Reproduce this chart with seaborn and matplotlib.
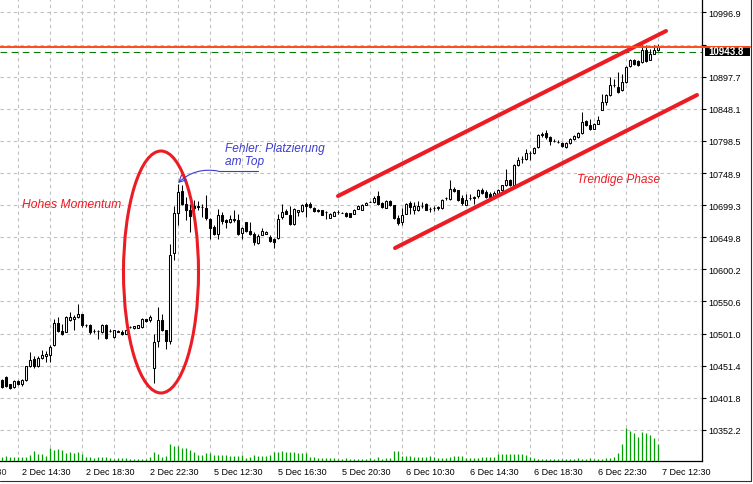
import numpy as np
import pandas as pd
import matplotlib
matplotlib.use("Agg")
import matplotlib.pyplot as plt
import matplotlib.transforms as mtransforms
from matplotlib.patches import Ellipse, Rectangle
from matplotlib.lines import Line2D
import seaborn as sns

# OHLC per bar (bar 0 = left edge of the screenshot)
opens = [10430.0, 10434.1, 10422.8, 10418.6, 10427.9, 10422.8, 10428.9, 10450.6, 10461.4, 10450.6,
         10463.4, 10466.0, 10467.5, 10483.0, 10518.0, 10504.6, 10504.1, 10521.6, 10523.1, 10526.7,
         10530.9, 10514.4, 10514.9, 10505.1, 10505.1, 10503.6, 10514.9, 10505.1, 10495.9, 10505.6,
         10504.1, 10501.0, 10511.0, 10509.2, 10509.7, 10511.3, 10523.1, 10521.6, 10448.5, 10489.7,
         10521.6, 10506.1, 10489.7, 10625.6, 10687.3, 10720.8, 10701.7, 10692.5, 10698.6, 10697.6,
         10696.6, 10695.0, 10678.6, 10665.7, 10655.4, 10683.7, 10676.0, 10673.4, 10678.6, 10676.0,
         10656.4, 10673.4, 10659.0, 10654.4, 10641.0, 10653.9, 10655.4, 10650.3, 10647.7, 10649.2,
         10681.1, 10689.9, 10684.7, 10670.9, 10688.9, 10690.4, 10700.7, 10700.7, 10695.0, 10691.4,
         10691.4, 10688.9, 10680.1, 10683.2, 10689.4, 10687.8, 10687.8, 10687.3, 10686.3, 10694.0,
         10692.5, 10699.7, 10704.3, 10704.3, 10713.1, 10702.8, 10695.6, 10705.8, 10699.2, 10680.1,
         10673.4, 10686.3, 10702.8, 10691.4, 10692.5, 10697.6, 10700.7, 10694.0, 10695.0, 10695.6,
         10695.6, 10710.5, 10709.5, 10724.9, 10722.3, 10711.0, 10700.2, 10711.0, 10711.0, 10713.1,
         10723.4, 10720.3, 10716.2, 10713.6, 10716.2, 10722.3, 10730.0, 10737.7, 10730.0, 10760.9,
         10770.0, 10771.2, 10780.0, 10780.0, 10789.2, 10808.3, 10810.8, 10804.7, 10798.5, 10797.0,
         10795.9, 10789.2, 10795.4, 10801.0, 10804.7, 10810.8, 10829.4, 10822.7, 10817.5, 10825.3,
         10846.9, 10858.7, 10869.0, 10884.5, 10881.9, 10876.7, 10889.6, 10913.8, 10924.1, 10922.0,
         10920.5, 10939.5, 10924.1, 10933.4, 10939.5]
highs = [10430.5, 10435.0, 10423.8, 10428.9, 10430.0, 10431.0, 10451.6, 10472.2, 10466.5, 10466.5,
         10475.3, 10473.7, 10483.0, 10524.2, 10526.7, 10516.4, 10527.8, 10534.5, 10529.3, 10547.3,
         10531.9, 10516.4, 10516.4, 10508.7, 10507.2, 10516.4, 10516.4, 10508.7, 10507.2, 10506.1,
         10506.1, 10507.0, 10513.0, 10513.5, 10514.5, 10525.2, 10524.2, 10529.3, 10501.0, 10542.2,
         10530.9, 10507.2, 10638.9, 10697.6, 10731.6, 10730.0, 10712.0, 10701.7, 10707.9, 10705.8,
         10700.7, 10715.6, 10679.6, 10668.3, 10694.0, 10688.9, 10678.6, 10684.7, 10691.4, 10685.3,
         10665.7, 10673.4, 10673.4, 10657.5, 10655.4, 10664.2, 10659.0, 10652.8, 10648.7, 10686.3,
         10700.7, 10694.0, 10697.6, 10695.0, 10692.5, 10700.7, 10704.3, 10704.3, 10696.6, 10694.0,
         10692.5, 10689.9, 10687.3, 10690.4, 10691.4, 10688.4, 10689.4, 10687.8, 10694.0, 10699.2,
         10701.7, 10703.8, 10705.3, 10713.6, 10721.3, 10704.3, 10706.9, 10706.9, 10700.2, 10683.7,
         10695.0, 10702.8, 10705.8, 10704.3, 10705.8, 10704.3, 10702.8, 10696.6, 10697.6, 10697.6,
         10709.5, 10712.0, 10738.8, 10727.5, 10723.4, 10714.6, 10717.2, 10716.1, 10713.1, 10724.9,
         10726.4, 10722.3, 10720.3, 10721.3, 10724.9, 10731.1, 10755.8, 10740.3, 10763.5, 10773.8,
         10775.0, 10786.7, 10783.1, 10789.2, 10809.8, 10812.4, 10815.0, 10805.7, 10802.1, 10799.5,
         10797.0, 10797.0, 10803.1, 10807.3, 10812.4, 10843.3, 10830.4, 10832.5, 10826.3, 10836.6,
         10871.6, 10871.6, 10897.3, 10894.7, 10905.0, 10902.5, 10913.8, 10925.6, 10925.6, 10923.1,
         10946.2, 10946.2, 10941.1, 10946.2, 10947.7]
lows = [10417.6, 10418.6, 10415.5, 10417.6, 10421.7, 10420.7, 10427.9, 10449.5, 10448.5, 10449.5,
        10462.4, 10457.2, 10457.2, 10481.4, 10503.6, 10499.5, 10503.1, 10520.6, 10506.1, 10525.7,
        10511.3, 10511.3, 10501.0, 10502.0, 10493.3, 10502.5, 10493.3, 10503.1, 10494.8, 10503.1,
        10498.4, 10500.0, 10509.0, 10508.5, 10509.2, 10510.3, 10519.0, 10519.0, 10424.8, 10480.4,
        10505.1, 10477.8, 10485.6, 10615.3, 10668.3, 10699.2, 10676.0, 10657.5, 10673.4, 10691.4,
        10681.2, 10676.0, 10647.7, 10652.8, 10647.7, 10670.9, 10664.7, 10671.9, 10673.4, 10653.9,
        10647.7, 10658.0, 10652.8, 10637.4, 10638.9, 10652.8, 10654.4, 10642.0, 10633.3, 10647.7,
        10678.6, 10685.3, 10669.3, 10668.3, 10682.2, 10688.9, 10681.1, 10695.6, 10688.9, 10688.9,
        10683.7, 10678.6, 10679.6, 10682.2, 10686.3, 10686.8, 10681.1, 10680.6, 10685.3, 10693.5,
        10691.4, 10699.2, 10703.8, 10703.3, 10699.2, 10695.6, 10694.5, 10697.6, 10678.6, 10668.3,
        10668.3, 10685.3, 10685.3, 10686.3, 10690.4, 10695.6, 10691.4, 10688.9, 10690.4, 10691.4,
        10694.0, 10707.9, 10707.9, 10719.7, 10705.3, 10700.2, 10699.2, 10706.9, 10701.7, 10711.0,
        10717.2, 10711.0, 10711.0, 10712.1, 10714.6, 10721.3, 10729.5, 10728.4, 10729.5, 10759.4,
        10764.0, 10769.7, 10768.6, 10778.9, 10788.2, 10804.7, 10802.1, 10791.8, 10796.4, 10795.4,
        10789.2, 10788.2, 10793.3, 10799.5, 10803.6, 10809.8, 10821.1, 10816.0, 10817.0, 10824.2,
        10845.8, 10853.6, 10867.5, 10881.9, 10872.6, 10875.7, 10888.6, 10912.8, 10915.3, 10914.8,
        10918.9, 10920.5, 10923.1, 10932.4, 10937.5]
closes = [10418.6, 10420.7, 10417.6, 10427.9, 10423.8, 10430.0, 10450.6, 10460.9, 10450.6, 10463.9,
          10468.6, 10470.1, 10480.4, 10518.0, 10505.1, 10501.0, 10526.7, 10526.7, 10526.7, 10530.9,
          10514.9, 10513.9, 10503.6, 10504.6, 10504.6, 10514.9, 10494.3, 10504.6, 10506.1, 10504.1,
          10501.0, 10506.1, 10511.6, 10512.8, 10513.9, 10523.1, 10521.1, 10526.7, 10488.6, 10521.6,
          10507.2, 10489.7, 10623.0, 10687.8, 10719.7, 10700.7, 10692.5, 10682.2, 10695.0, 10697.1,
          10696.1, 10679.6, 10664.7, 10655.4, 10684.7, 10675.0, 10672.9, 10677.5, 10676.0, 10655.4,
          10664.7, 10659.5, 10654.4, 10642.5, 10651.3, 10659.0, 10658.0, 10643.6, 10642.5, 10678.6,
          10688.9, 10686.3, 10670.9, 10694.0, 10691.4, 10699.2, 10697.6, 10696.6, 10690.4, 10690.4,
          10684.7, 10688.4, 10686.3, 10688.4, 10689.1, 10687.6, 10682.2, 10681.1, 10692.5, 10698.6,
          10700.2, 10702.8, 10704.8, 10711.0, 10700.7, 10696.6, 10705.8, 10699.2, 10680.1, 10671.9,
          10683.7, 10701.7, 10696.6, 10697.6, 10697.6, 10697.4, 10692.5, 10693.8, 10695.3, 10696.1,
          10707.9, 10710.3, 10724.9, 10721.3, 10706.9, 10702.8, 10707.9, 10710.8, 10711.3, 10723.4,
          10718.2, 10712.1, 10712.1, 10718.7, 10723.4, 10730.0, 10737.7, 10730.0, 10760.9, 10769.7,
          10770.5, 10780.0, 10780.5, 10788.2, 10808.3, 10808.8, 10804.7, 10798.5, 10799.0, 10796.7,
          10790.3, 10795.4, 10801.0, 10805.7, 10810.8, 10827.8, 10822.7, 10817.5, 10825.3, 10830.4,
          10858.7, 10869.0, 10884.5, 10885.0, 10874.2, 10889.6, 10912.8, 10924.1, 10916.9, 10915.3,
          10939.5, 10922.0, 10932.4, 10939.5, 10943.8]
volumes = [43, 50, 40, 40, 40, 40, 40, 63, 103, 70, 67, 53, 130, 113, 120, 113, 83, 90, 77, 93,
           73, 43, 43, 30, 40, 40, 37, 30, 20, 27, 30, 30, 20, 20, 20, 20, 20, 40, 93, 73,
           43, 53, 173, 153, 153, 130, 133, 110, 93, 63, 63, 77, 83, 63, 63, 63, 63, 53, 53, 53,
           57, 33, 40, 60, 53, 53, 47, 63, 93, 93, 103, 87, 93, 87, 80, 83, 77, 40, 43, 33,
           33, 33, 33, 30, 23, 23, 30, 23, 20, 20, 20, 20, 30, 20, 40, 20, 27, 30, 103, 97,
           55, 50, 50, 45, 40, 40, 45, 50, 40, 35, 35, 35, 40, 50, 55, 55,
           30, 35, 35, 35, 40, 40, 40, 40, 70, 75, 70, 70, 70, 70, 70, 65,
           40, 30, 25, 25, 20, 25, 25, 20, 20, 25, 25, 25, 30, 25, 25, 35,
           25, 25, 25, 30, 35, 40,
           80, 170, 330, 300, 280, 240, 290, 280, 260, 230, 170]

time_tick_bars = [4, 20, 36, 52, 68, 84, 100, 116, 132, 148, 164]
time_tick_labels = ["2 Dec 14:30", "2 Dec 18:30", "2 Dec 22:30", "5 Dec 12:30", "5 Dec 16:30",
                    "5 Dec 20:30", "6 Dec 10:30", "6 Dec 14:30", "6 Dec 18:30", "6 Dec 22:30",
                    "7 Dec 12:30"]
price_ticks = [10352.2, 10401.8, 10451.4, 10501.0, 10550.6, 10600.2, 10649.8, 10699.3,
               10748.9, 10798.5, 10848.1, 10897.7, 10947.3, 10996.9]
bid_price = 10943.8
level_price = 10935.3

# drawn objects on the chart
upper_channel_bar = [84, 166]
upper_channel_price = [10713.4, 10968.2]
lower_channel_bar = [98.25, 173.75]
lower_channel_price = [10633.1, 10869.4]

RED = "#ec1c24"
BLUE = "#3c3cd0"

sns.set_style("white")
plt.rcParams["font.family"] = ["Liberation Sans", "DejaVu Sans"]

df = pd.DataFrame({"open": opens, "high": highs, "low": lows, "close": closes, "volume": volumes})
df["bar"] = np.arange(len(df))
df["body_low"] = df[["open", "close"]].min(axis=1)
df["body_h"] = (df["close"] - df["open"]).abs()
up = df["close"] >= df["open"]

fig = plt.figure(figsize=(7.53, 4.85), dpi=100)
ax = fig.add_axes([0, 23 / 485, 702 / 753, 462 / 485])

# volumes sit at the bottom on their own scale
axv = ax.twinx()
axv.vlines(df["bar"], 0, df["volume"], color="#00a000", linewidth=0.9)
axv.set_ylim(0, 4620)
axv.set_axis_off()

# candles
ax.vlines(df["bar"], df["low"], df["high"], color="black", linewidth=0.75, zorder=3)
ax.bar(df["bar"][up], df["body_h"][up], bottom=df["body_low"][up], width=0.55,
       color="white", edgecolor="black", linewidth=0.75, zorder=4)
ax.bar(df["bar"][~up], df["body_h"][~up], bottom=df["body_low"][~up], width=0.55,
       color="black", edgecolor="black", linewidth=0.75, zorder=4)

ax.set_xlim(-0.5, 175)
ax.set_ylim(10304.3, 11017.6)

# bid line and level line
ax.axhline(level_price, color="#0a7a0a", linewidth=0.8, linestyle=(0, (6, 4)), zorder=2)
ax.axhline(bid_price, xmin=0, xmax=750 / 702, color="#ff4a1a", linewidth=1.4, zorder=6, clip_on=False)
blend = mtransforms.blended_transform_factory(ax.transAxes, ax.transData)
ax.add_patch(Rectangle((705 / 702, bid_price - 14.5), 45 / 702, 16.5, transform=blend,
                       facecolor="black", edgecolor="none", clip_on=False, zorder=5))
ax.text(708 / 702, bid_price - 6.2, f"{bid_price:.1f}", transform=blend, color="white",
        fontsize=7.0, fontweight="bold", va="center", ha="left", clip_on=False, zorder=7)

# channel
sns.lineplot(x=upper_channel_bar, y=upper_channel_price, ax=ax, color=RED, linewidth=2.9, zorder=5)
sns.lineplot(x=lower_channel_bar, y=lower_channel_price, ax=ax, color=RED, linewidth=2.9, zorder=5)

# momentum ellipse
ax.add_patch(Ellipse((39.75, 10596.1), 18.75, 373.6, fill=False, edgecolor=RED, linewidth=2.2, zorder=5))

# labels
ax.text(5, 10701.1, "Hohes Momentum", color=RED, fontsize=8.7, style="italic", va="center", ha="left")
ax.text(143.75, 10739.7, "Trendige Phase", color=RED, fontsize=8.6, style="italic", va="center", ha="left")
ax.text(55.75, 10797.5, "Fehler: Platzierung\nam Top", color=BLUE, fontsize=8.6, style="italic",
        va="top", ha="left", linespacing=1.2)
ax.plot([54, 64], [10752.0, 10752.0], color=BLUE, linewidth=0.8, zorder=6)
ax.annotate("", xy=(44, 10733.5), xytext=(54, 10752.0),
            arrowprops=dict(arrowstyle="->,head_length=0.5,head_width=0.25", color=BLUE,
                            linewidth=0.8, connectionstyle="arc3,rad=0.25", shrinkA=0, shrinkB=0),
            zorder=6)

# axes look
ax.yaxis.tick_right()
ax.set_yticks(price_ticks)
ax.set_yticklabels([f"{p:.1f}" if p != 10947.3 else "" for p in price_ticks])
ax.set_xticks(time_tick_bars)
ax.set_xticks([b + 8 for b in time_tick_bars[:-1]], minor=True)
ax.set_xticklabels(time_tick_labels)
ax.tick_params(axis="y", which="major", direction="out", length=3, width=0.8, pad=1.5,
               labelsize=6.5, colors="black")
ax.tick_params(axis="x", which="major", direction="out", length=3, width=0.8, pad=1.5,
               labelsize=6.5, colors="black")
ax.tick_params(axis="x", which="minor", length=0)
offset = mtransforms.ScaledTranslation(3 / 72, 0, fig.dpi_scale_trans)
for lab in ax.get_xticklabels():
    lab.set_horizontalalignment("left")
    lab.set_transform(lab.get_transform() + offset)
# label of the previous time tick, mostly off the left edge
ax.text(-12, -0.0125, "2 Dec 10:30", transform=ax.get_xaxis_transform() + offset,
        fontsize=6.5, ha="left", va="top", clip_on=False)

ax.grid(axis="x", which="both", color="#c0c0c0", linestyle=(0, (3, 3)), linewidth=0.8)
ax.grid(axis="y", which="major", color="#c0c0c0", linestyle=(0, (3, 3)), linewidth=0.8)
ax.set_axisbelow(True)
for side in ["top", "left"]:
    ax.spines[side].set_visible(False)
for side in ["right", "bottom"]:
    ax.spines[side].set_color("black")
    ax.spines[side].set_linewidth(0.9)

# window frame
fig.add_artist(Line2D([750.5 / 753, 750.5 / 753], [3.5 / 485, 1], color="#303030", linewidth=0.8))
fig.add_artist(Line2D([0, 750.5 / 753], [3.5 / 485, 3.5 / 485], color="#303030", linewidth=0.8))

fig.savefig("out.png", dpi=100, facecolor="white")
